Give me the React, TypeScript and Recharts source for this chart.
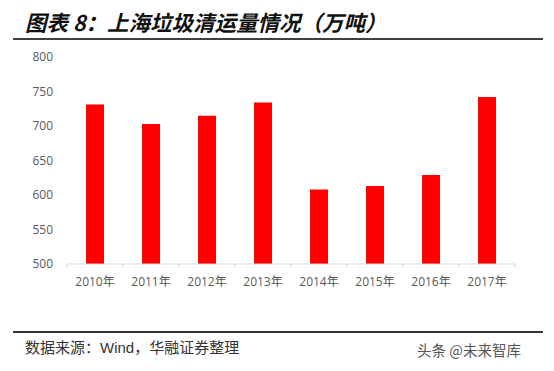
import React from "react";
import { Bar, BarChart, XAxis, YAxis } from "recharts";

const years = ["2010年", "2011年", "2012年", "2013年", "2014年", "2015年", "2016年", "2017年"];
const volume = [731, 703, 715, 734, 608, 613, 629, 742];
const yTicks = [500, 550, 600, 650, 700, 750, 800];

const data = years.map((year, i) => ({ year, volume: volume[i] }));

const AXIS_FONT = "'Open Sans', 'Noto Sans CJK SC', sans-serif";

function YearTick(props: any) {
  const { x, y, payload, index, visibleTicksCount } = props;
  const half = payload?.offset ?? 28;
  const isLast = index === (visibleTicksCount ?? years.length) - 1;
  return (
    <g>
      <line x1={x - half} x2={x - half} y1={y} y2={y + 4} stroke="#d9d9d9" />
      {isLast && <line x1={x + half} x2={x + half} y1={y} y2={y + 4} stroke="#d9d9d9" />}
      <text x={x} y={y + 22} textAnchor="middle" fontSize={12} fill="#595959" fontFamily={AXIS_FONT}>
        {payload.value}
      </text>
    </g>
  );
}

export default function App() {
  return (
    <div style={{ position: "absolute", left: 0, top: 0, width: 554, height: 371, background: "#fff" }}>
      <div
        style={{
          position: "absolute",
          left: 25,
          top: 9,
          fontSize: 21.5,
          lineHeight: "26px",
          fontWeight: 700,
          fontStyle: "italic",
          color: "#111",
          fontFamily: "'Noto Sans CJK SC', sans-serif",
          whiteSpace: "nowrap",
        }}
      >
        图表 8：上海垃圾清运量情况（万吨）
      </div>
      <div style={{ position: "absolute", left: 13, top: 38, width: 530, height: 2, background: "#404040" }} />

      <BarChart
        width={554}
        height={371}
        data={data}
        margin={{ top: 57, right: 39, left: 0, bottom: 77 }}
        style={{ position: "absolute", left: 0, top: 0 }}
      >
        <YAxis
          width={67}
          domain={[500, 800]}
          ticks={yTicks}
          interval={0}
          axisLine={false}
          tickLine={false}
          tickMargin={8}
          tick={{ fontSize: 12, fill: "#595959", fontFamily: AXIS_FONT }}
        />
        <XAxis
          dataKey="year"
          interval={0}
          tickLine={false}
          tickSize={0}
          tickMargin={0}
          axisLine={{ stroke: "#d9d9d9" }}
          tick={<YearTick />}
        />
        <Bar dataKey="volume" fill="#ff0000" barSize={18} isAnimationActive={false} />
      </BarChart>

      <div style={{ position: "absolute", left: 13, top: 331, width: 530, height: 1.5, background: "#333" }} />
      <div
        style={{
          position: "absolute",
          left: 25,
          top: 338,
          fontSize: 15,
          lineHeight: "18px",
          color: "#333",
          fontFamily: "'Noto Sans CJK SC', sans-serif",
          whiteSpace: "nowrap",
        }}
      >
        数据来源：<span style={{ fontFamily: "'Liberation Sans', Arial, sans-serif" }}>Wind</span>，华融证券整理
      </div>
      <div
        style={{
          position: "absolute",
          left: 417,
          top: 341,
          fontSize: 14.5,
          lineHeight: "17px",
          color: "#555",
          fontFamily: "'Noto Sans CJK SC', sans-serif",
          whiteSpace: "nowrap",
        }}
      >
        头条 @未来智库
      </div>
    </div>
  );
}
